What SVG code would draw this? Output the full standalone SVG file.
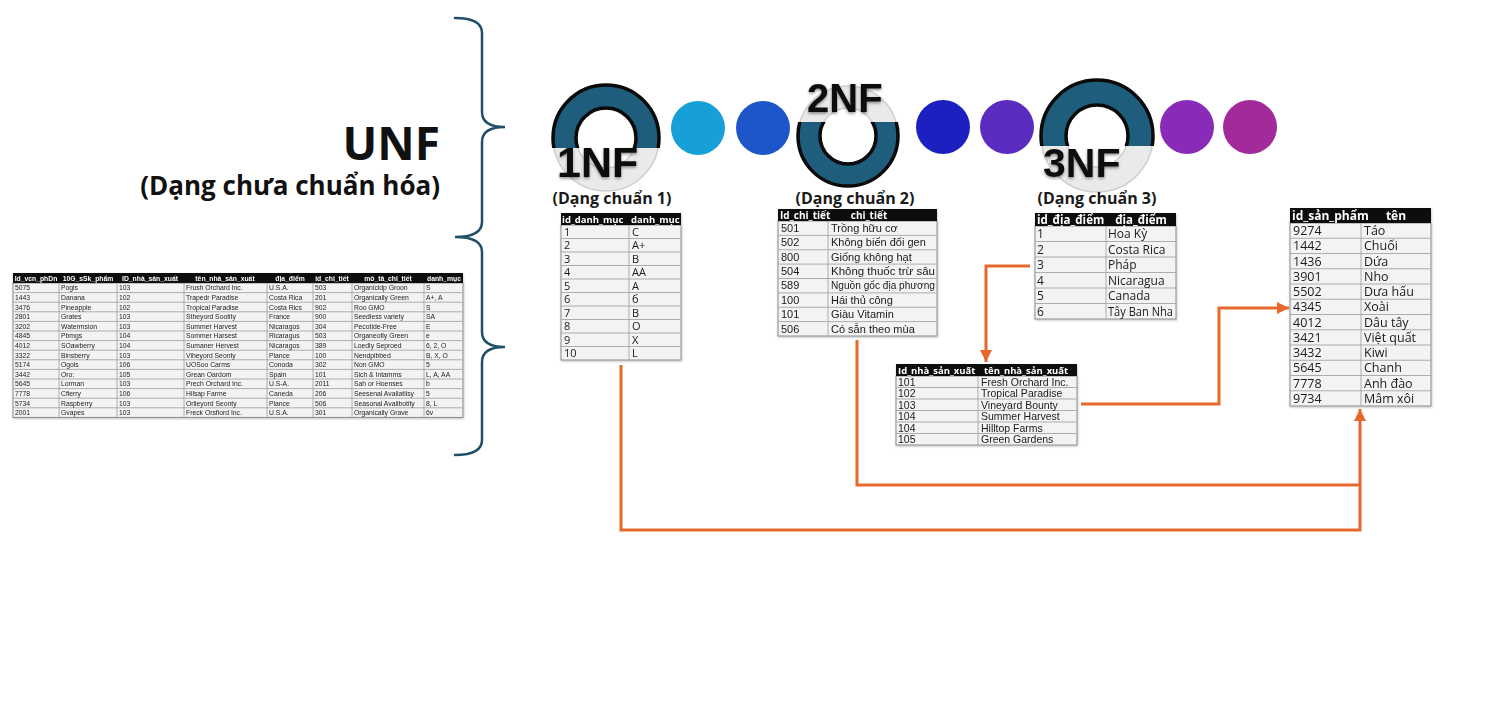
<svg xmlns="http://www.w3.org/2000/svg" width="1488" height="704" viewBox="0 0 1488 704">
<style>
.bg{fill:#ffffff}
.brace{fill:none;stroke:#1f4f69;stroke-width:2.5;stroke-linecap:round}
.big{font-family:"Open Sans","Liberation Sans",sans-serif;font-weight:bold;fill:#111}
.nf{font-family:"Liberation Sans",Arial,sans-serif;font-weight:bold;fill:#111}
.lbl{font-family:"Open Sans","Liberation Sans",sans-serif;font-weight:bold;font-size:16px;fill:#1a1a1a;text-anchor:middle}
.hd{fill:#0d0d0d}
.body{fill:#f3f3f3;stroke:#8c8c8c;stroke-width:1}
.grid{fill:none;stroke:#a5a5a5;stroke-width:0.9}
.ht{font-family:"Open Sans","Liberation Sans",sans-serif;font-weight:bold;fill:#ffffff}
.t{font-family:"Open Sans","Liberation Sans",sans-serif;fill:#1a1a1a}
.tn{font-family:"Liberation Sans",Arial,sans-serif;fill:#1a1a1a}
.u{font-family:"Liberation Sans",Arial,sans-serif;font-size:6.8px;fill:#222}
.uh{font-family:"Liberation Sans",Arial,sans-serif;font-size:6.8px;font-weight:bold;fill:#fff;text-anchor:middle}
.conn{fill:none;stroke:#e5692c;stroke-width:3}
.light{fill:none;stroke:#e6e6e6;stroke-opacity:0.85}
.lightedge{fill:none;stroke:#cfcfcf;stroke-width:1.5}
.dark{fill:#1e5d7b;stroke:#0a0a0a;stroke-width:3.5;fill-rule:evenodd}
</style>
<defs>
<marker id="ah" markerUnits="userSpaceOnUse" markerWidth="14" markerHeight="12" refX="12" refY="6" orient="auto">
<path d="M0,0 L12,6 L0,12 Z" fill="#e5692c"/>
</marker>
<filter id="sh" x="-20%" y="-20%" width="140%" height="140%">
<feDropShadow dx="0" dy="1.5" stdDeviation="1.5" flood-color="#000" flood-opacity="0.45"/>
</filter>
<filter id="tsh" x="-5%" y="-5%" width="110%" height="110%">
<feDropShadow dx="0.5" dy="1" stdDeviation="1" flood-color="#000" flood-opacity="0.25"/>
</filter>
<clipPath id="c1"><rect x="540" y="70" width="140" height="78"/></clipPath>
<clipPath id="c2"><rect x="780" y="122" width="140" height="80"/></clipPath>
<clipPath id="c3"><rect x="1030" y="70" width="140" height="76"/></clipPath>
</defs>
<rect class="bg" x="0" y="0" width="1488" height="704"/>

<g id="unf-brace">
<path class="brace" d="M455,18 Q482,18 482,33 L482,112 Q482,127 505,127 Q482,127 482,142 L482,222 Q482,237 455,237 Q482,237 482,252 L482,332 Q482,347 505,347 Q482,347 482,362 L482,440 Q482,455 455,455"/>
</g>

<g id="unf-title">
<text class="big" x="440" y="160" font-size="46" text-anchor="end">UNF</text>
<text class="big" x="440" y="195" font-size="26" text-anchor="end">(Dạng chưa chuẩn hóa)</text>
</g>

<g id="unf-table" filter="url(#tsh)">
<rect class="body" x="13" y="283" width="450" height="134.4"/>
<rect class="hd" x="13" y="273" width="450" height="10"/>
<path class="grid" d="M13,292.6H463M13,302.2H463M13,311.8H463M13,321.4H463M13,331H463M13,340.6H463M13,350.2H463M13,359.8H463M13,369.4H463M13,379H463M13,388.6H463M13,398.2H463M13,407.8H463M59,283V417.4M117,283V417.4M184,283V417.4M267,283V417.4M313,283V417.4M352,283V417.4M424,283V417.4"/>
<text class="uh" x="36" y="280.5">Id_vcn_phDn</text>
<text class="uh" x="88" y="280.5">10G_sSk_phẩm</text>
<text class="uh" x="150" y="280.5">ID_nhà_sản_xuất</text>
<text class="uh" x="225" y="280.5">tên_nhà_sản_xuất</text>
<text class="uh" x="290" y="280.5">địa_điểm</text>
<text class="uh" x="332" y="280.5">id_chi_tiết</text>
<text class="uh" x="388" y="280.5">mô_tả_chi_tiết</text>
<text class="uh" x="444" y="280.5">danh_mục</text>
<g class="u">
<text x="15" y="290.3">5075</text><text x="61" y="290.3">Pogis</text><text x="119" y="290.3">103</text><text x="186" y="290.3">Frush Orchard Inc.</text><text x="269" y="290.3">U.S.A.</text><text x="315" y="290.3">503</text><text x="354" y="290.3">Organicidp Groon</text><text x="426" y="290.3">S</text>
<text x="15" y="299.9">1443</text><text x="61" y="299.9">Danana</text><text x="119" y="299.9">102</text><text x="186" y="299.9">Trapedr Paradise</text><text x="269" y="299.9">Costa Rica</text><text x="315" y="299.9">201</text><text x="354" y="299.9">Organically Green</text><text x="426" y="299.9">A+, A</text>
<text x="15" y="309.5">3476</text><text x="61" y="309.5">Pineapple</text><text x="119" y="309.5">102</text><text x="186" y="309.5">Tropical Paradise</text><text x="269" y="309.5">Costa Rics</text><text x="315" y="309.5">902</text><text x="354" y="309.5">Roo GMO</text><text x="426" y="309.5">S</text>
<text x="15" y="319.1">2801</text><text x="61" y="319.1">Grates</text><text x="119" y="319.1">103</text><text x="186" y="319.1">Stheyord Sootity</text><text x="269" y="319.1">France</text><text x="315" y="319.1">900</text><text x="354" y="319.1">Seedless variety</text><text x="426" y="319.1">SA</text>
<text x="15" y="328.7">3202</text><text x="61" y="328.7">Watermsion</text><text x="119" y="328.7">103</text><text x="186" y="328.7">Summer Harvest</text><text x="269" y="328.7">Nicaragos</text><text x="315" y="328.7">304</text><text x="354" y="328.7">Pecotide-Free</text><text x="426" y="328.7">E</text>
<text x="15" y="338.3">4845</text><text x="61" y="338.3">Pbmgs</text><text x="119" y="338.3">104</text><text x="186" y="338.3">Sommer Harsest</text><text x="269" y="338.3">Ricaragus</text><text x="315" y="338.3">503</text><text x="354" y="338.3">Organeotly Green</text><text x="426" y="338.3">e</text>
<text x="15" y="347.9">4012</text><text x="61" y="347.9">SOawberry</text><text x="119" y="347.9">104</text><text x="186" y="347.9">Sumaner Hervest</text><text x="269" y="347.9">Nicaragos</text><text x="315" y="347.9">389</text><text x="354" y="347.9">Loedly Seproed</text><text x="426" y="347.9">6, 2, O</text>
<text x="15" y="357.5">3322</text><text x="61" y="357.5">Binsberry</text><text x="119" y="357.5">103</text><text x="186" y="357.5">Viheyord Seonty</text><text x="269" y="357.5">Plance</text><text x="315" y="357.5">100</text><text x="354" y="357.5">Nendpibbed</text><text x="426" y="357.5">B, X, O</text>
<text x="15" y="367.1">5174</text><text x="61" y="367.1">Ogois</text><text x="119" y="367.1">106</text><text x="186" y="367.1">UOSoo Carms</text><text x="269" y="367.1">Conoda</text><text x="315" y="367.1">302</text><text x="354" y="367.1">Non GMO</text><text x="426" y="367.1">5</text>
<text x="15" y="376.7">3442</text><text x="61" y="376.7">Oro:</text><text x="119" y="376.7">105</text><text x="186" y="376.7">Grean Oardom</text><text x="269" y="376.7">Spain</text><text x="315" y="376.7">101</text><text x="354" y="376.7">Sich &amp; Intamms</text><text x="426" y="376.7">L, A, AA</text>
<text x="15" y="386.3">5645</text><text x="61" y="386.3">Lorman</text><text x="119" y="386.3">103</text><text x="186" y="386.3">Prech Orchard Inc.</text><text x="269" y="386.3">U.S-A.</text><text x="315" y="386.3">2011</text><text x="354" y="386.3">Sah or Hoenses</text><text x="426" y="386.3">b</text>
<text x="15" y="395.9">7778</text><text x="61" y="395.9">Cfierry</text><text x="119" y="395.9">106</text><text x="186" y="395.9">Hilsap Farme</text><text x="269" y="395.9">Caneda</text><text x="315" y="395.9">206</text><text x="354" y="395.9">Seesenal Availatiisy</text><text x="426" y="395.9">5</text>
<text x="15" y="405.5">5734</text><text x="61" y="405.5">Raspberry</text><text x="119" y="405.5">103</text><text x="186" y="405.5">Orlieyord Seonty</text><text x="269" y="405.5">Plance</text><text x="315" y="405.5">506</text><text x="354" y="405.5">Seasonal Availbotity</text><text x="426" y="405.5">8, L</text>
<text x="15" y="415.1">2001</text><text x="61" y="415.1">Gvapes</text><text x="119" y="415.1">103</text><text x="186" y="415.1">Freck Orsfiord Inc.</text><text x="269" y="415.1">U.S.A.</text><text x="315" y="415.1">301</text><text x="354" y="415.1">Organically Grave</text><text x="426" y="415.1">6v</text>
</g>
</g>

<g id="dots">
<circle cx="698" cy="128" r="27" fill="#17a0d8"/>
<circle cx="763" cy="128" r="27" fill="#1d56c9"/>
<circle cx="943" cy="127" r="27" fill="#1c20c1"/>
<circle cx="1007" cy="127" r="27" fill="#5a2cc0"/>
<circle cx="1187" cy="127" r="27" fill="#8a2ab8"/>
<circle cx="1250" cy="127" r="27" fill="#a22a9a"/>
</g>

<g id="nf1">
<circle class="light" cx="606" cy="138" r="41.5" stroke-width="23"/>
<circle class="lightedge" cx="606" cy="138" r="53"/>
<circle class="lightedge" cx="606" cy="138" r="30"/>
<path class="dark" clip-path="url(#c1)" d="M553,138a53,53 0 1,0 106,0a53,53 0 1,0 -106,0ZM576,138a30,30 0 1,0 60,0a30,30 0 1,0 -60,0Z"/>
<text class="nf" x="557" y="177" font-size="43" filter="url(#sh)">1NF</text>
<text class="lbl" x="612" y="204">(Dạng chuẩn 1)</text>
</g>

<g id="nf2">
<circle class="light" cx="848" cy="136" r="39" stroke-width="22"/>
<circle class="lightedge" cx="848" cy="136" r="50"/>
<circle class="lightedge" cx="848" cy="136" r="28"/>
<path class="dark" clip-path="url(#c2)" d="M798,136a50,50 0 1,0 100,0a50,50 0 1,0 -100,0ZM820,136a28,28 0 1,0 56,0a28,28 0 1,0 -56,0Z"/>
<text class="nf" x="807" y="112" font-size="40" filter="url(#sh)">2NF</text>
<text class="lbl" x="855" y="204">(Dạng chuẩn 2)</text>
</g>

<g id="nf3">
<circle class="light" cx="1097" cy="136" r="43.5" stroke-width="25"/>
<circle class="lightedge" cx="1097" cy="136" r="56"/>
<circle class="lightedge" cx="1097" cy="136" r="31"/>
<path class="dark" clip-path="url(#c3)" d="M1041,136a56,56 0 1,0 112,0a56,56 0 1,0 -112,0ZM1066,136a31,31 0 1,0 62,0a31,31 0 1,0 -62,0Z"/>
<text class="nf" x="1043" y="177" font-size="41" filter="url(#sh)">3NF</text>
<text class="lbl" x="1097" y="204">(Dạng chuẩn 3)</text>
</g>

<g id="table-1nf" filter="url(#tsh)">
<rect class="body" x="561" y="225" width="120" height="135"/>
<rect class="hd" x="561" y="213" width="120" height="12"/>
<path class="grid" d="M561,238.5H681M561,252H681M561,265.5H681M561,279H681M561,292.5H681M561,306H681M561,319.5H681M561,333H681M561,346.5H681M629,225V360"/>
<text class="ht" x="562" y="222.5" font-size="9.5">id_danh_mục</text>
<text class="ht" x="631" y="222.5" font-size="9.5">danh_mục</text>
<g class="t" font-size="11">
<text x="564" y="235.5">1</text><text x="632" y="235.5">C</text>
<text x="564" y="249">2</text><text x="632" y="249">A+</text>
<text x="564" y="262.5">3</text><text x="632" y="262.5">B</text>
<text x="564" y="276">4</text><text x="632" y="276">AA</text>
<text x="564" y="289.5">5</text><text x="632" y="289.5">A</text>
<text x="564" y="303">6</text><text x="632" y="303">б</text>
<text x="564" y="316.5">7</text><text x="632" y="316.5">B</text>
<text x="564" y="330">8</text><text x="632" y="330">O</text>
<text x="564" y="343.5">9</text><text x="632" y="343.5">X</text>
<text x="564" y="357">10</text><text x="632" y="357">L</text>
</g>
</g>

<g id="table-2nf" filter="url(#tsh)">
<rect class="body" x="778" y="221" width="159" height="115"/>
<rect class="hd" x="778" y="209" width="159" height="12"/>
<path class="grid" d="M778,235.4H937M778,249.75H937M778,264.1H937M778,278.5H937M778,292.9H937M778,307.25H937M778,321.6H937M828,221V336"/>
<text class="ht" x="780" y="218.5" font-size="10">Id_chi_tiết</text>
<text class="ht" x="869" y="218.5" font-size="10" text-anchor="middle">chi_tiết</text>
<g class="tn" font-size="11">
<text x="781" y="232">501</text><text x="831" y="232">Trồng hữu cơ</text>
<text x="781" y="246.3">502</text><text x="831" y="246.3">Không biến đổi gen</text>
<text x="781" y="260.7">800</text><text x="831" y="260.7">Giống không hạt</text>
<text x="781" y="275">504</text><text x="831" y="275" textLength="104" lengthAdjust="spacingAndGlyphs">Không thuốc trừ sâu</text>
<text x="781" y="289.4">589</text><text x="831" y="289.4" textLength="104" lengthAdjust="spacingAndGlyphs">Nguồn gốc địa phương</text>
<text x="781" y="303.8">100</text><text x="831" y="303.8">Hái thủ công</text>
<text x="781" y="318.1">101</text><text x="831" y="318.1">Giàu Vitamin</text>
<text x="781" y="332.5">506</text><text x="831" y="332.5">Có sẵn theo mùa</text>
</g>
</g>

<g id="table-3nf" filter="url(#tsh)">
<rect class="body" x="1035" y="226" width="141" height="93"/>
<rect class="hd" x="1035" y="213" width="141" height="13"/>
<path class="grid" d="M1035,241.5H1176M1035,257H1176M1035,272.5H1176M1035,288H1176M1035,303.5H1176M1106,226V319"/>
<text class="ht" x="1037" y="223.5" font-size="11.5">id_địa_điểm</text>
<text class="ht" x="1141" y="223.5" font-size="11.5" text-anchor="middle">địa_điểm</text>
<g class="t" font-size="12">
<text x="1037" y="238">1</text><text x="1108" y="238">Hoa Kỳ</text>
<text x="1037" y="253.5">2</text><text x="1108" y="253.5">Costa Rica</text>
<text x="1037" y="269">3</text><text x="1108" y="269">Pháp</text>
<text x="1037" y="284.5">4</text><text x="1108" y="284.5">Nicaragua</text>
<text x="1037" y="300">5</text><text x="1108" y="300">Canada</text>
<text x="1037" y="315.5">6</text><text x="1108" y="315.5" textLength="65" lengthAdjust="spacingAndGlyphs">Tây Ban Nha</text>
</g>
</g>

<g id="table-producer" filter="url(#tsh)">
<rect class="body" x="896" y="376" width="181" height="69"/>
<rect class="hd" x="896" y="364" width="181" height="12"/>
<path class="grid" d="M896,387.5H1077M896,399H1077M896,410.5H1077M896,422H1077M896,433.5H1077M978,376V445"/>
<text class="ht" x="898" y="373.5" font-size="9.5">Id_nhà_sản_xuất</text>
<text class="ht" x="984" y="373.5" font-size="9.5">tên_nhà_sản_xuất</text>
<g class="tn" font-size="10.5">
<text x="898" y="385.5">101</text><text x="981" y="385.5">Fresh Orchard Inc.</text>
<text x="898" y="397">102</text><text x="981" y="397">Tropical Paradise</text>
<text x="898" y="408.5">103</text><text x="981" y="408.5">Vineyard Bounty</text>
<text x="898" y="420">104</text><text x="981" y="420">Summer Harvest</text>
<text x="898" y="431.5">104</text><text x="981" y="431.5">Hilltop Farms</text>
<text x="898" y="443">105</text><text x="981" y="443">Green Gardens</text>
</g>
</g>

<g id="table-product" filter="url(#tsh)">
<rect class="body" x="1290" y="223" width="141" height="183"/>
<rect class="hd" x="1290" y="208" width="141" height="15"/>
<path class="grid" d="M1290,238.25H1431M1290,253.5H1431M1290,268.75H1431M1290,284H1431M1290,299.25H1431M1290,314.5H1431M1290,329.75H1431M1290,345H1431M1290,360.25H1431M1290,375.5H1431M1290,390.75H1431M1361,223V406"/>
<text class="ht" x="1292" y="219.5" font-size="12">id_sản_phẩm</text>
<text class="ht" x="1396" y="219.5" font-size="12" text-anchor="middle">tên</text>
<g class="t" font-size="12.5">
<text x="1293" y="235">9274</text><text x="1364" y="235">Táo</text>
<text x="1293" y="250.2">1442</text><text x="1364" y="250.2">Chuối</text>
<text x="1293" y="265.5">1436</text><text x="1364" y="265.5">Dứa</text>
<text x="1293" y="280.7">3901</text><text x="1364" y="280.7">Nho</text>
<text x="1293" y="296">5502</text><text x="1364" y="296">Dưa hấu</text>
<text x="1293" y="311.2">4345</text><text x="1364" y="311.2">Xoài</text>
<text x="1293" y="326.5">4012</text><text x="1364" y="326.5">Dâu tây</text>
<text x="1293" y="341.7">3421</text><text x="1364" y="341.7">Việt quất</text>
<text x="1293" y="357">3432</text><text x="1364" y="357">Kiwi</text>
<text x="1293" y="372.2">5645</text><text x="1364" y="372.2">Chanh</text>
<text x="1293" y="387.5">7778</text><text x="1364" y="387.5">Anh đào</text>
<text x="1293" y="402.7">9734</text><text x="1364" y="402.7">Mâm xôi</text>
</g>
</g>

<g id="connectors">
<path class="conn" d="M621,365V530H1360V409" marker-end="url(#ah)"/>
<path class="conn" d="M857,340V485H1360"/>
<path class="conn" d="M1030,266H986V362" marker-end="url(#ah)"/>
<path class="conn" d="M1081,404H1219V308H1289" marker-end="url(#ah)"/>
</g>
</svg>
